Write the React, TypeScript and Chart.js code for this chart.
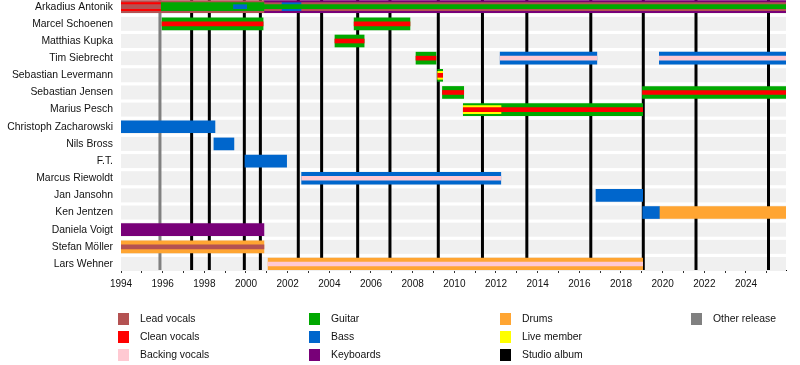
import React, { useEffect, useRef } from "react";
import { Chart, registerables } from "chart.js";

Chart.register(...registerables);

const members = [
  "Arkadius Antonik",
  "Marcel Schoenen",
  "Matthias Kupka",
  "Tim Siebrecht",
  "Sebastian Levermann",
  "Sebastian Jensen",
  "Marius Pesch",
  "Christoph Zacharowski",
  "Nils Bross",
  "F.T.",
  "Marcus Riewoldt",
  "Jan Jansohn",
  "Ken Jentzen",
  "Daniela Voigt",
  "Stefan Möller",
  "Lars Wehner",
];

const START = 1994;
const END = 2025.92;

// [member index, role, from, to]
const mainBars: [number, string, number, number][] = [
  [0, "Lead vocals", 1994, 2000.86],
  [0, "Keyboards", 2000.86, END],
  [1, "Guitar", 1995.97, 2000.82],
  [1, "Guitar", 2005.19, 2007.87],
  [2, "Guitar", 2004.27, 2005.67],
  [3, "Guitar", 2008.16, 2009.12],
  [3, "Bass", 2012.2, 2016.84],
  [3, "Bass", 2019.84, END],
  [4, "Guitar", 2009.2, 2009.44],
  [5, "Guitar", 2009.43, 2010.45],
  [5, "Guitar", 2019.03, END],
  [6, "Guitar", 2010.43, 2019.04],
  [7, "Bass", 1994, 1998.51],
  [8, "Bass", 1998.46, 1999.42],
  [9, "Bass", 1999.95, 2001.95],
  [10, "Bass", 2002.67, 2012.23],
  [11, "Bass", 2016.8, 2019.04],
  [12, "Bass", 2019.04, 2019.84],
  [12, "Drums", 2019.84, END],
  [13, "Keyboards", 1994, 2000.86],
  [14, "Drums", 1994, 2000.86],
  [15, "Drums", 2001.06, 2019.04],
];

const middleBars: [number, string, number, number][] = [
  [0, "Clean vocals", 1994, 1995.9],
  [0, "Guitar", 1995.9, 2000.86],
  [0, "Lead vocals", 2000.86, 2001.7],
  [0, "Bass", 2001.7, 2002.67],
  [0, "Lead vocals", 2002.67, END],
  [4, "Live member", 2009.2, 2009.44],
  [6, "Live member", 2010.43, 2012.24],
];

const innerBars: [number, string, number, number][] = [
  [0, "Lead vocals", 1994, 1995.9],
  [0, "Bass", 1999.4, 2000.03],
  [0, "Guitar", 2000.86, END],
  [1, "Clean vocals", 1995.97, 2000.82],
  [1, "Clean vocals", 2005.19, 2007.87],
  [2, "Clean vocals", 2004.27, 2005.67],
  [3, "Clean vocals", 2008.16, 2009.12],
  [3, "Backing vocals", 2012.2, 2016.84],
  [3, "Backing vocals", 2019.84, END],
  [4, "Clean vocals", 2009.2, 2009.44],
  [5, "Clean vocals", 2009.43, 2010.45],
  [5, "Clean vocals", 2019.03, END],
  [6, "Clean vocals", 2010.43, 2019.04],
  [10, "Backing vocals", 2002.67, 2012.23],
  [14, "Lead vocals", 1994, 2000.86],
  [15, "Backing vocals", 2001.06, 2019.04],
];

const studioAlbums = [
  1997.39, 1998.24, 1999.92, 2000.69, 2002.51, 2003.63, 2005.36, 2006.91,
  2009.23, 2011.35, 2013.48, 2016.55, 2019.07, 2021.6, 2025.08,
];
const otherReleases = [1995.87];

const legendLabels = [
  "Lead vocals",
  "Clean vocals",
  "Backing vocals",
  "Guitar",
  "Bass",
  "Keyboards",
  "Drums",
  "Live member",
  "Studio album",
  "Other release",
];

const colors: Record<string, string> = {
  "Lead vocals": "#b45252",
  "Clean vocals": "#ff0000",
  "Backing vocals": "#ffc9d2",
  Guitar: "#00a800",
  Bass: "#0066cc",
  Keyboards: "#780078",
  Drums: "#ffa532",
  "Live member": "#ffff00",
  "Studio album": "#000000",
  "Other release": "#808080",
};

const FONT = "'Liberation Sans', Arial, sans-serif";

function buildDatasets() {
  const layers = [
    { rows: mainBars, thickness: 12, order: 3 },
    { rows: middleBars, thickness: 8, order: 2 },
    { rows: innerBars, thickness: 4, order: 1 },
  ];
  const ds: any[] = [];
  layers.forEach((layer) => {
    const roles = Array.from(new Set(layer.rows.map((r) => r[1])));
    roles.forEach((role) => {
      ds.push({
        label: role,
        data: layer.rows
          .filter((r) => r[1] === role)
          .map((r) => ({ x: [r[2], r[3]], y: r[0] })),
        backgroundColor: colors[role],
        borderWidth: 0,
        barThickness: layer.thickness,
        grouped: false,
        order: layer.order,
      });
    });
  });
  return ds;
}

const backdropPlugin = {
  id: "backdrop",
  beforeDatasetsDraw(chart: any) {
    const { ctx, chartArea, scales } = chart;
    const x = scales.x;
    const y = scales.y;
    ctx.save();
    ctx.fillStyle = "#f0f0f0";
    members.forEach((_, i) => {
      const py = y.getPixelForValue(i);
      ctx.fillRect(chartArea.left, py - 7, chartArea.right - chartArea.left, 14);
    });
    const drawLine = (v: number, color: string) => {
      const px = x.getPixelForValue(v);
      ctx.strokeStyle = color;
      ctx.lineWidth = 3;
      ctx.beginPath();
      ctx.moveTo(px, chartArea.top);
      ctx.lineTo(px, chartArea.bottom);
      ctx.stroke();
    };
    otherReleases.forEach((v) => drawLine(v, colors["Other release"]));
    studioAlbums.forEach((v) => drawLine(v, colors["Studio album"]));
    ctx.restore();
  },
};

const legendPlugin = {
  id: "customLegend",
  afterDraw(chart: any) {
    const { ctx } = chart;
    const colX = [118, 309, 500, 691];
    const rowY = [313, 331, 349];
    ctx.save();
    ctx.font = `10.4px ${FONT}`;
    ctx.textBaseline = "middle";
    ctx.textAlign = "left";
    legendLabels.forEach((label, i) => {
      const cx = colX[Math.floor(i / 3)];
      const cy = rowY[i % 3];
      ctx.fillStyle = colors[label];
      ctx.fillRect(cx, cy, 11, 12);
      ctx.fillStyle = "#111";
      ctx.fillText(label, cx + 22, cy + 6.5);
    });
    ctx.restore();
  },
};

export default function App() {
  const ref = useRef<HTMLCanvasElement>(null);
  useEffect(() => {
    document.body.style.margin = "0";
    Chart.defaults.font.family = FONT;
    const chart = new Chart(ref.current as HTMLCanvasElement, {
      type: "bar",
      data: { datasets: buildDatasets() },
      plugins: [backdropPlugin, legendPlugin],
      options: {
        indexAxis: "y",
        responsive: false,
        animation: false,
        layout: { padding: { top: 0, right: 14, bottom: 0, left: 0 } },
        plugins: { legend: { display: false }, tooltip: { enabled: false } },
        scales: {
          x: {
            type: "linear",
            min: START,
            max: END,
            offset: false,
            ticks: {
              stepSize: 1,
              autoSkip: false,
              includeBounds: false,
              maxRotation: 0,
              padding: 5,
              color: "#111",
              font: { size: 10 },
              callback: (v: any) => (Number(v) % 2 === 0 ? String(v) : ""),
            },
            grid: {
              drawOnChartArea: false,
              drawTicks: true,
              tickLength: 3,
              color: "#333",
            },
            border: { display: true, color: "#000", width: 1 },
            afterFit: (s: any) => {
              s.height = 95;
              s.paddingLeft = 0;
              s.paddingRight = 0;
            },
          },
          y: {
            type: "linear",
            reverse: true,
            offset: false,
            min: -0.39,
            max: 15.35,
            afterBuildTicks: (s: any) => {
              s.ticks = members.map((_, i) => ({ value: i }));
            },
            ticks: {
              autoSkip: false,
              padding: 8,
              color: "#111",
              font: { size: 10.4 },
              callback: (v: any) => members[Number(v)] ?? "",
            },
            grid: { display: false, drawTicks: false },
            border: { display: false },
            afterFit: (s: any) => {
              s.width = 121;
              s.paddingTop = 0;
              s.paddingBottom = 0;
            },
          },
        },
      } as any,
    });
    return () => chart.destroy();
  }, []);
  return (
    <div style={{ width: 800, height: 365 }}>
      <canvas ref={ref} width={800} height={365} style={{ display: "block" }} />
    </div>
  );
}
